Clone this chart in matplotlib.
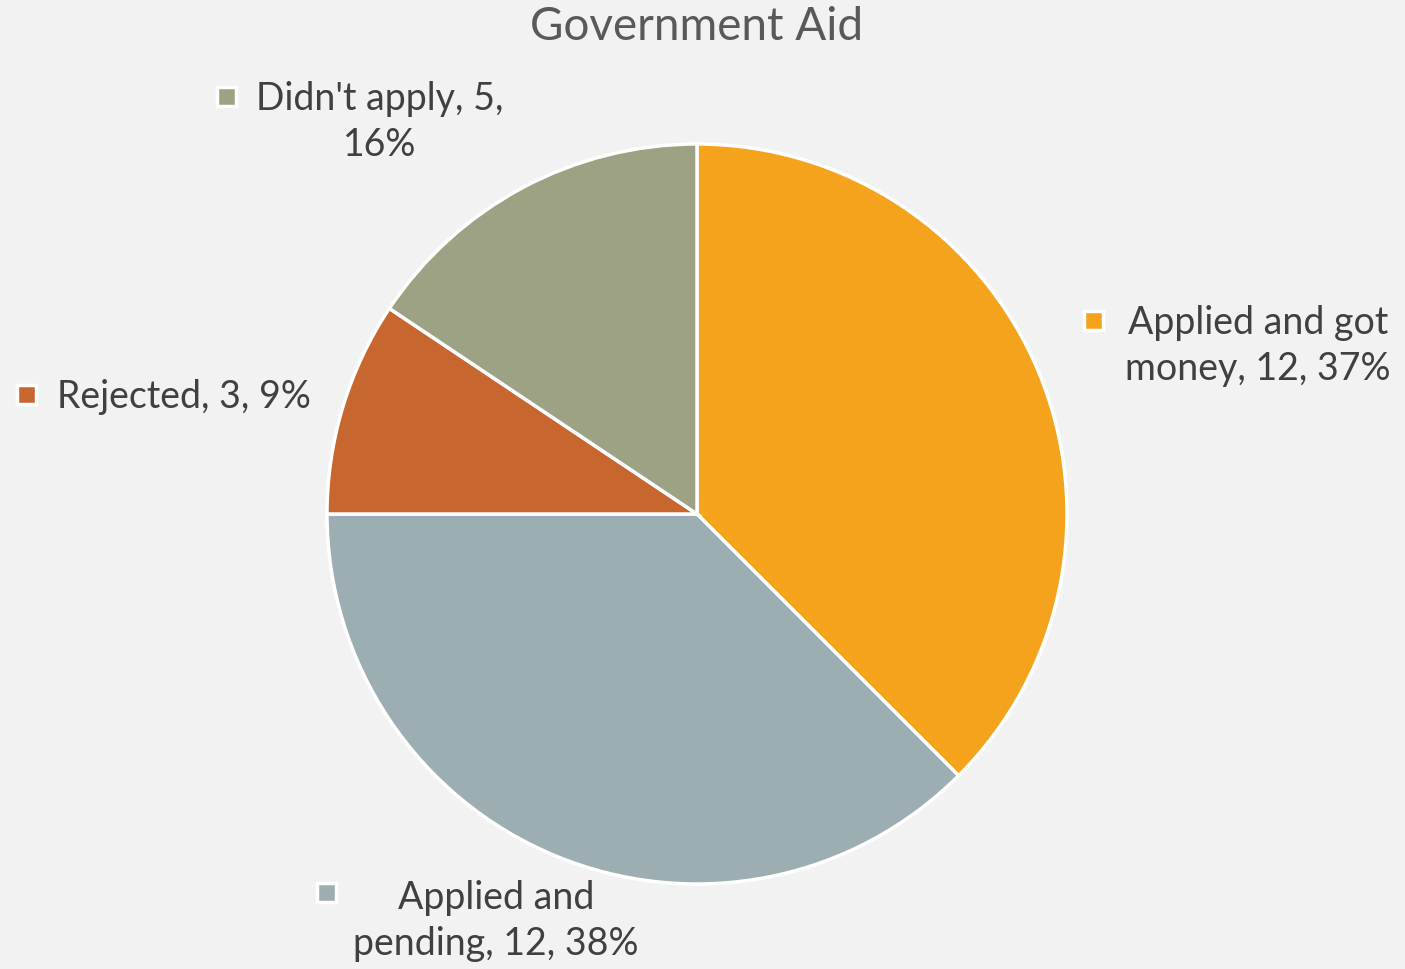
import matplotlib.pyplot as plt
from matplotlib.patches import Rectangle

plt.rcParams['font.family'] = ['Lato', 'DejaVu Sans']

# Government aid survey responses
categorias = ['Applied and got money', 'Applied and pending', 'Rejected', "Didn't apply"]
valores = [12, 12, 3, 5]
percentuais = ['37%', '38%', '9%', '16%']
cores = ['#F5A31D', '#9DAEB3', '#C8662F', '#9CA283']
rotulos = [
    'Applied and got\nmoney, 12, 37%',
    'Applied and\npending, 12, 38%',
    'Rejected, 3, 9%',
    "Didn't apply, 5,\n16%",
]

W, H = 1405, 970
fundo = '#F2F2F2'
fig = plt.figure(figsize=(W / 100, H / 100), dpi=100, facecolor=fundo)

# pie centre and radius in pixels
cx, cy, r = 697, 515, 370
meio = 400
ax = fig.add_axes([(cx - meio) / W, (H - cy - meio) / H, 2 * meio / W, 2 * meio / H])
ax.set_facecolor(fundo)

ax.pie(valores, colors=cores, startangle=90, counterclock=False, radius=1,
       wedgeprops=dict(edgecolor='white', linewidth=2.5))

# pie() resets the limits, so fix them afterwards
lim = meio / r
ax.set_xlim(-lim, lim)
ax.set_ylim(-lim, lim)
ax.set_aspect('equal')
ax.axis('off')


def px(x, y):
    return (x - cx) / r, (cy - y) / r


# label anchors: (marker x, marker y, text centre x, text centre y)
posicoes = [
    (1094, 321, 1258, 346),
    (326, 893, 496, 921),
    (26, 395, 184, 397),
    (226, 97, 380, 122),
]

lado = 19 / r
for (mx, my, tx, ty), rot, cor in zip(posicoes, rotulos, cores):
    x0, y0 = px(mx, my)
    ax.add_patch(Rectangle((x0 - lado / 2, y0 - lado / 2), lado, lado,
                           facecolor=cor, edgecolor='white', linewidth=2.5,
                           clip_on=False))
    x1, y1 = px(tx, ty)
    ax.text(x1, y1, rot, ha='center', va='center', fontsize=27,
            color='#404040', linespacing=1.33, clip_on=False)

fig.text(697 / W, 1 - 27 / H, 'Government Aid', ha='center', va='center',
         fontsize=33, color='#595959')

fig.savefig('out.png', dpi=100, facecolor=fundo)
